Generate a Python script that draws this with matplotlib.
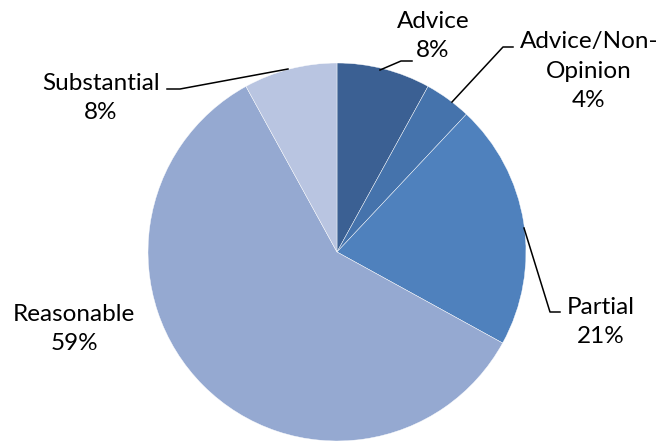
import matplotlib.pyplot as plt

labels = ["Advice", "Advice/Non-\nOpinion", "Partial", "Reasonable", "Substantial"]
pcts = [8, 4, 21, 59, 8]
colors = ["#3B6093", "#4573AC", "#4F81BD", "#95A9D1", "#B9C5E1"]

W, H = 661, 441
fig = plt.figure(figsize=(W / 100, H / 100), dpi=100)
ax = fig.add_axes([0, 0, 1, 1])

cx, cy, r = 337, H - 252, 189
ax.pie(pcts, colors=colors, startangle=90, counterclock=False,
       center=(cx, cy), radius=r, frame=True,
       wedgeprops=dict(edgecolor="white", linewidth=0.3))
ax.set_xlim(0, W)
ax.set_ylim(0, H)
ax.set_aspect("equal")
ax.axis("off")

font = dict(family="Lato", fontsize=17.5, color="black", ha="center", va="center",
            linespacing=1.5)

# label positions in pixel coords (x, y from top)
text_pos = [(433, 36), (589, 71), (601, 322), (74, 329), (101, 98)]
for lab, p, (tx, ty) in zip(labels, pcts, text_pos):
    ax.text(tx, H - ty, f"{lab}\n{p}%", **font)

# leader lines
leaders = [
    [(380, 70), (401, 61), (412, 61)],
    [(452, 102), (503, 47), (513, 47)],
    [(524, 228), (550, 312), (560, 312)],
    [(288, 69), (180, 89), (167, 89)],
]
for pts in leaders:
    xs = [p[0] for p in pts]
    ys = [H - p[1] for p in pts]
    ax.plot(xs, ys, color="black", linewidth=1.1)

fig.savefig("out.png", dpi=100)
